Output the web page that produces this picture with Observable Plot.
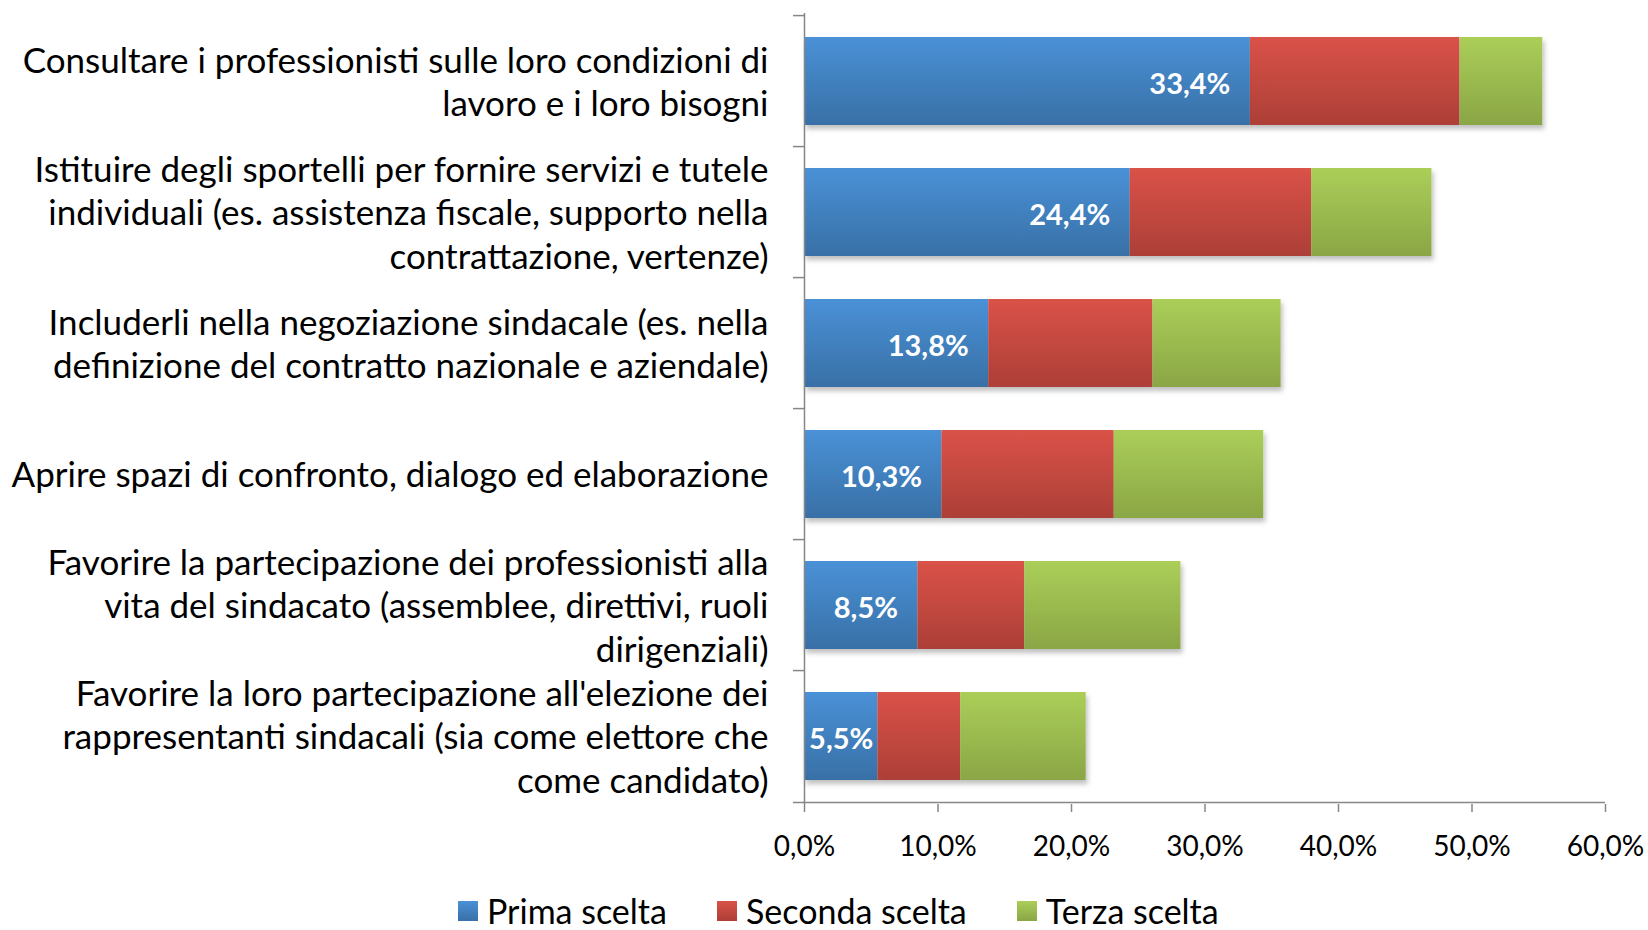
<!DOCTYPE html>
<html><head><meta charset="utf-8">
<script src="https://cdn.jsdelivr.net/npm/d3@7"></script>
<script src="https://cdn.jsdelivr.net/npm/@observablehq/plot@0.6"></script>
<style>
body{margin:0;background:#fff;font-family:Lato,sans-serif;overflow:hidden;}
#chart svg{display:block;}
#legend{display:flex;align-items:center;height:42px;margin-left:458px;font-size:34px;line-height:1;color:#000;}
#legend .item{display:flex;align-items:center;margin-right:50px;}
#legend .sw{width:20px;height:20px;margin-right:9px;}
</style></head><body>
<div id="chart"></div>
<div id="legend"></div>
<script>
const categories = [
  "Consultare i professionisti sulle loro condizioni di\nlavoro e i loro bisogni",
  "Istituire degli sportelli per fornire servizi e tutele\nindividuali (es. assistenza fiscale, supporto nella\ncontrattazione, vertenze)",
  "Includerli nella negoziazione sindacale (es. nella\ndefinizione del contratto nazionale e aziendale)",
  "Aprire spazi di confronto, dialogo ed elaborazione",
  "Favorire la partecipazione dei professionisti alla\nvita del sindacato (assemblee, direttivi, ruoli\ndirigenziali)",
  "Favorire la loro partecipazione all'elezione dei\nrappresentanti sindacali (sia come elettore che\ncome candidato)"
];
const series = ["Prima scelta", "Seconda scelta", "Terza scelta"];
const prima = [33.4, 24.4, 13.8, 10.3, 8.5, 5.5];
const seconda = [15.7, 13.6, 12.3, 12.9, 8.0, 6.2];
const terza = [6.2, 9.0, 9.6, 11.2, 11.7, 9.4];
const xTicks = [0, 10, 20, 30, 40, 50, 60];
const gradTop = ["#4a91d7", "#da5248", "#abce59"];
const gradBottom = ["#3870a6", "#ac3f37", "#8aa645"];

const W = 1648, H = 890, mT = 13, mB = 86, mL = 804, mR = 43;
const step = (H - mT - mB) / categories.length;
const fmt = v => v.toFixed(1).replace(".", ",") + "%";

const rows = categories.flatMap((c, i) => [
  {category: c, series: series[0], value: prima[i]},
  {category: c, series: series[1], value: seconda[i]},
  {category: c, series: series[2], value: terza[i]}
]);
const firsts = categories.map((c, i) => ({category: c, value: prima[i]}));
const gray = "#868686";

const plot = Plot.plot({
  width: W, height: H,
  marginTop: mT, marginBottom: mB, marginLeft: mL, marginRight: mR,
  style: {fontFamily: "Lato, sans-serif", background: "#fff", color: "#000"},
  x: {domain: [0, 60], label: null},
  y: {domain: categories, paddingInner: 0.33, paddingOuter: 0.165, label: null},
  color: {domain: series, range: series.map((s, i) => `url(#grad${i})`)},
  marks: [
    Plot.barX(rows, Plot.stackX({y: "category", x: "value", fill: "series"})),
    Plot.ruleX([0], {stroke: gray, strokeWidth: 1.5}),
    Plot.ruleY(categories, {y: d => d, x1: 0, x2: 0, insetLeft: -11, dy: -step / 2, stroke: gray, strokeWidth: 1.5}),
    Plot.ruleY(categories.slice(-1), {y: d => d, x1: 0, x2: 60, insetLeft: -11, dy: step / 2, stroke: gray, strokeWidth: 1.5}),
    Plot.axisX({ticks: xTicks, tickFormat: fmt, tickSize: 8, tickPadding: 24, stroke: gray, strokeWidth: 1.5, fontSize: 28, fill: "#000", label: null}),
    Plot.axisY({tickSize: 0, tickPadding: 36, fontSize: 35, lineHeight: 1.24, dy: -1, fill: "#000", tickFormat: d => d, label: null}),
    Plot.text(firsts.filter(d => d.value >= 7), {x: "value", y: "category", text: d => fmt(d.value), textAnchor: "end", dx: -20, dy: 3, fill: "#fff", fontWeight: "bold", fontSize: 29}),
    Plot.text(firsts.filter(d => d.value < 7), {x: d => d.value / 2, y: "category", text: d => fmt(d.value), textAnchor: "middle", dy: 3, fill: "#fff", fontWeight: "bold", fontSize: 29})
  ]
});

const svg = d3.select(plot);
const defs = svg.insert("defs", ":first-child");
series.forEach((s, i) => {
  const g = defs.append("linearGradient").attr("id", `grad${i}`).attr("x1", 0).attr("y1", 0).attr("x2", 0).attr("y2", 1);
  g.append("stop").attr("offset", "0%").attr("stop-color", gradTop[i]);
  g.append("stop").attr("offset", "100%").attr("stop-color", gradBottom[i]);
});
const f = defs.append("filter").attr("id", "shadow").attr("x", "-10%").attr("y", "-10%").attr("width", "130%").attr("height", "140%");
f.append("feDropShadow").attr("dx", 2).attr("dy", 4).attr("stdDeviation", 2.5).attr("flood-color", "#000").attr("flood-opacity", 0.25);
svg.selectAll('g[aria-label="bar"]').attr("filter", "url(#shadow)");
document.getElementById("chart").appendChild(plot);

const legend = d3.select("#legend");
series.forEach((s, i) => {
  const it = legend.append("div").attr("class", "item");
  it.append("div").attr("class", "sw").style("background", `linear-gradient(${gradTop[i]}, ${gradBottom[i]})`);
  it.append("span").text(s);
});
</script></body></html>
